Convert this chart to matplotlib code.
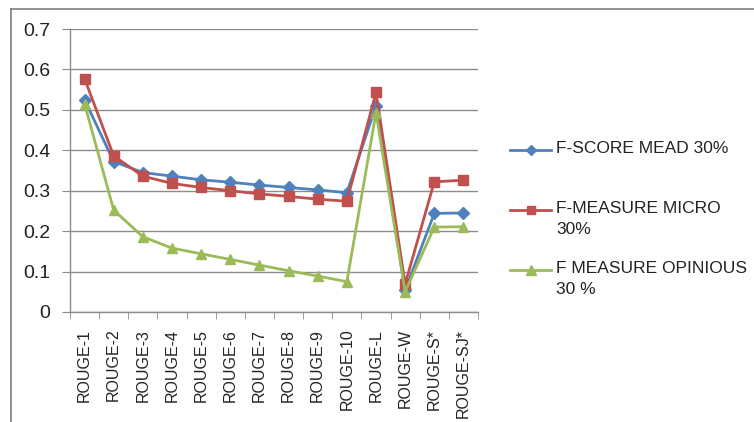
import matplotlib
matplotlib.use("Agg")
import matplotlib.pyplot as plt
from matplotlib.lines import Line2D
import numpy as np

categories = ["ROUGE-1", "ROUGE-2", "ROUGE-3", "ROUGE-4", "ROUGE-5", "ROUGE-6", "ROUGE-7",
              "ROUGE-8", "ROUGE-9", "ROUGE-10", "ROUGE-L", "ROUGE-W", "ROUGE-S*", "ROUGE-SJ*"]
mead = [0.525, 0.372, 0.345, 0.336, 0.327, 0.321, 0.314, 0.308, 0.302, 0.295, 0.510, 0.054, 0.244, 0.245]
micro = [0.577, 0.386, 0.336, 0.318, 0.308, 0.300, 0.292, 0.286, 0.279, 0.274, 0.543, 0.069, 0.322, 0.326]
opinious = [0.515, 0.252, 0.186, 0.158, 0.144, 0.130, 0.116, 0.102, 0.089, 0.075, 0.493, 0.050, 0.210, 0.211]
series_labels = ["F-SCORE MEAD 30%", "F-MEASURE MICRO\n30%", "F MEASURE OPINIOUS\n30 %"]
yticks = [0, 0.1, 0.2, 0.3, 0.4, 0.5, 0.6, 0.7]

plt.rcParams['font.family'] = ['Liberation Sans', 'DejaVu Sans']

W, H = 754, 422
fig = plt.figure(figsize=(W / 100, H / 100), dpi=100)
fig.patch.set_facecolor("white")

def fx(px):
    return px / W

def fy(py):
    return 1 - py / H

ax = fig.add_axes([fx(70), fy(312), fx(478) - fx(70), fy(29) - fy(312)])

colors = ["#4F81BD", "#C0504D", "#9BBB59"]
markers = ["D", "s", "^"]
msizes = [6.0, 6.5, 7.5]
x = np.arange(len(categories))
for vals, c, m, ms in zip([mead, micro, opinious], colors, markers, msizes):
    ax.plot(x, vals, color=c, marker=m, markersize=ms, linewidth=2.0,
            markeredgecolor=c, markerfacecolor=c, zorder=3)

ax.set_xlim(-0.5, len(categories) - 0.5)
ax.set_ylim(0, 0.7)
ax.set_yticks(yticks)
ax.set_yticklabels([("%g" % v) for v in yticks], fontsize=14, color="#222222")
ax.yaxis.grid(True, color="#8c8c8c", linewidth=1.0)
ax.set_axisbelow(True)

ax.set_xticks(x)
ax.set_xticklabels(categories, rotation=90, fontsize=11.5, color="#222222")
ax.set_xticks(np.arange(-0.5, len(categories), 1.0), minor=True)
ax.tick_params(axis="x", which="major", length=0, pad=12)
ax.tick_params(axis="x", which="minor", length=5, color="#8c8c8c", direction="out")
ax.tick_params(axis="y", length=6, color="#8c8c8c", direction="out", pad=8)

for s in ["top", "right"]:
    ax.spines[s].set_visible(False)
for s in ["left", "bottom"]:
    ax.spines[s].set_color("#8c8c8c")
    ax.spines[s].set_linewidth(1.0)

# legend (manual placement)
leg_rows = [150, 210, 270]
for lab, c, m, ms, py in zip(series_labels, colors, markers, msizes, leg_rows):
    fig.add_artist(Line2D([fx(510), fx(551)], [fy(py), fy(py)], color=c, linewidth=2.0,
                          transform=fig.transFigure))
    fig.add_artist(Line2D([fx(530.5)], [fy(py)], color=c, marker=m, markersize=ms - 0.5,
                          markeredgecolor=c, markerfacecolor=c, transform=fig.transFigure))
    fig.text(fx(556), fy(py - 9), lab, fontsize=12.5, color="#222222", va="top",
             ha="left", linespacing=1.5, transform=fig.transFigure)

# chart border (top and left visible)
fig.add_artist(Line2D([fx(10.5), fx(760)], [fy(8.5), fy(8.5)], color="#7f7f7f",
                      linewidth=1.2, transform=fig.transFigure))
fig.add_artist(Line2D([fx(10.5), fx(10.5)], [fy(8.5), fy(430)], color="#7f7f7f",
                      linewidth=1.2, transform=fig.transFigure))

fig.savefig("out.png", dpi=100, facecolor="white")
